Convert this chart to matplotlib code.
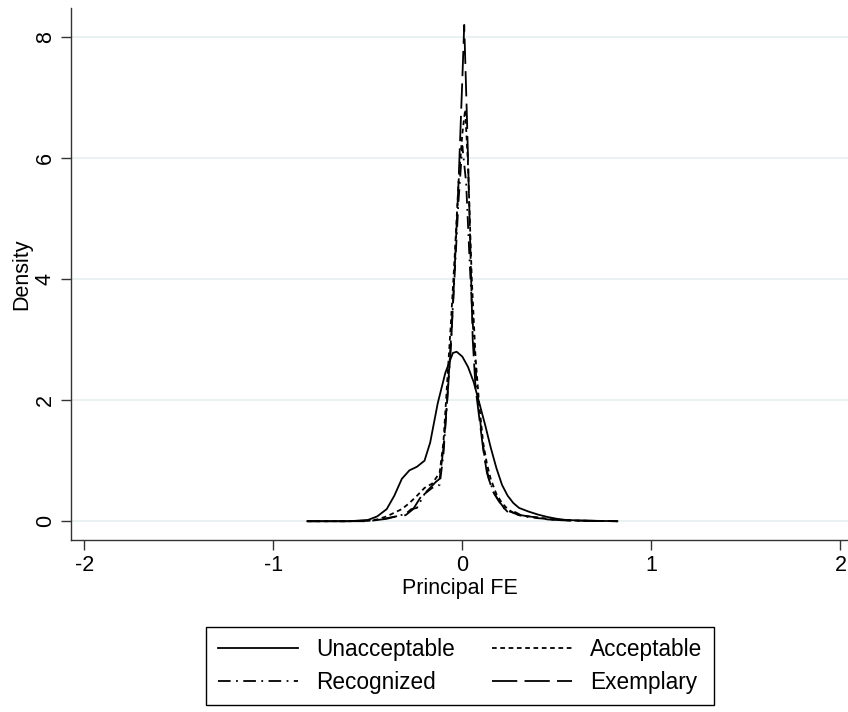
import matplotlib
matplotlib.use("Agg")
import matplotlib.pyplot as plt

plt.rcParams['font.family'] = ['Liberation Sans', 'DejaVu Sans']
plt.rcParams['axes.unicode_minus'] = False

# kernel density traces
unacc_x = [-0.82, -0.6, -0.5, -0.45, -0.40, -0.36, -0.32, -0.28, -0.24, -0.20, -0.17,
           -0.13, -0.09, -0.05, -0.03, 0.0, 0.03, 0.06, 0.09, 0.12, 0.15, 0.18, 0.21,
           0.24, 0.27, 0.30, 0.35, 0.40, 0.45, 0.50, 0.55, 0.65, 0.82]
unacc_y = [0, 0, 0.02, 0.08, 0.2, 0.42, 0.7, 0.84, 0.9, 1.0, 1.3,
           1.95, 2.45, 2.78, 2.8, 2.72, 2.55, 2.3, 1.95, 1.6, 1.22, 0.88, 0.6,
           0.42, 0.3, 0.22, 0.16, 0.11, 0.07, 0.04, 0.02, 0.01, 0]

acc_x = [-0.82, -0.6, -0.5, -0.45, -0.40, -0.36, -0.32, -0.28, -0.24, -0.20, -0.16,
         -0.12, -0.10, -0.08, -0.06, -0.04, -0.02, 0.0, 0.015, 0.03, 0.05, 0.07, 0.09,
         0.11, 0.13, 0.15, 0.18, 0.21, 0.24, 0.27, 0.30, 0.35, 0.40, 0.45, 0.50, 0.60, 0.82]
acc_y = [0, 0, 0.01, 0.03, 0.08, 0.14, 0.2, 0.3, 0.42, 0.55, 0.62,
         0.8, 1.3, 2.3, 3.3, 4.4, 5.6, 6.4, 6.8, 5.9, 4.0, 2.7, 1.9,
         1.3, 0.95, 0.7, 0.45, 0.3, 0.2, 0.14, 0.1, 0.08, 0.06, 0.04, 0.02, 0.01, 0]

rec_x = [-0.82, -0.6, -0.5, -0.45, -0.40, -0.35, -0.30, -0.27, -0.24, -0.20, -0.16,
         -0.12, -0.10, -0.08, -0.06, -0.04, -0.02, 0.0, 0.02, 0.04, 0.06, 0.08, 0.10,
         0.12, 0.14, 0.17, 0.20, 0.23, 0.26, 0.30, 0.35, 0.40, 0.45, 0.50, 0.60, 0.82]
rec_y = [0, 0, 0.01, 0.02, 0.05, 0.08, 0.12, 0.2, 0.22, 0.45, 0.55,
         0.6, 1.1, 2.0, 3.0, 4.1, 5.3, 6.2, 5.6, 4.2, 3.0, 2.1, 1.5,
         1.0, 0.7, 0.45, 0.3, 0.18, 0.15, 0.1, 0.07, 0.05, 0.04, 0.02, 0.01, 0]

exem_x = [-0.82, -0.6, -0.5, -0.4, -0.35, -0.30, -0.26, -0.22, -0.18, -0.14, -0.12,
          -0.10, -0.08, -0.06, -0.04, -0.02, 0.0, 0.01, 0.025, 0.04, 0.055, 0.07, 0.09,
          0.11, 0.13, 0.16, 0.19, 0.22, 0.25, 0.28, 0.31, 0.35, 0.40, 0.45, 0.50, 0.60, 0.82]
exem_y = [0, 0, 0, 0.04, 0.08, 0.1, 0.2, 0.4, 0.52, 0.65, 0.7,
          1.2, 2.0, 2.9, 4.2, 5.6, 7.3, 8.2, 6.6, 4.8, 3.0, 2.2, 1.7,
          1.2, 0.8, 0.5, 0.35, 0.22, 0.12, 0.15, 0.1, 0.08, 0.06, 0.03, 0.02, 0.01, 0]

fig = plt.figure(figsize=(8.48, 7.12), dpi=100)
ax = fig.add_axes([0.0837, 0.2416, 0.9163, 0.7472])

for yv in [0, 2, 4, 6, 8]:
    ax.axhline(yv, color='#e6eff1', lw=1.2, zorder=0)

lw = 1.3
l1, = ax.plot(unacc_x, unacc_y, color='black', lw=lw, ls='-', label='Unacceptable')
l2, = ax.plot(acc_x, acc_y, color='black', lw=lw, ls=(0, (2.6, 2.0)), label='Acceptable')
l3, = ax.plot(rec_x, rec_y, color='black', lw=lw, ls=(0, (7, 3, 1, 3)), label='Recognized')
l4, = ax.plot(exem_x, exem_y, color='black', lw=lw, ls=(0, (14, 4)), label='Exemplary')

ax.set_xlim(-2.07, 2.04)
ax.set_ylim(-0.31, 8.48)
ax.set_xticks([-2, -1, 0, 1, 2])
ax.set_yticks([0, 2, 4, 6, 8])
ax.spines['top'].set_visible(False)
ax.spines['right'].set_visible(False)
for s in ['left', 'bottom']:
    ax.spines[s].set_color('#333333')
    ax.spines[s].set_linewidth(1.0)
ax.tick_params(direction='out', length=7, width=1, color='#333333', labelsize=15.5, pad=4)
for t in ax.get_yticklabels():
    t.set_rotation(90)
    t.set_va('center')
ax.set_xlabel('Principal FE', fontsize=15.5, labelpad=1)
ax.set_ylabel('Density', fontsize=15.5, labelpad=2)

leg = fig.legend([l1, l3, l2, l4], ['Unacceptable', 'Recognized', 'Acceptable', 'Exemplary'],
                 ncol=2, loc='center', bbox_to_anchor=(0.5425, 0.0646),
                 fontsize=16.3, handlelength=3.54, handletextpad=0.8, columnspacing=1.64,
                 labelspacing=0.45, fancybox=False, edgecolor='black', framealpha=1,
                 borderpad=0.5, borderaxespad=0)
leg.get_frame().set_linewidth(1.0)

fig.savefig('out.png', dpi=100)
